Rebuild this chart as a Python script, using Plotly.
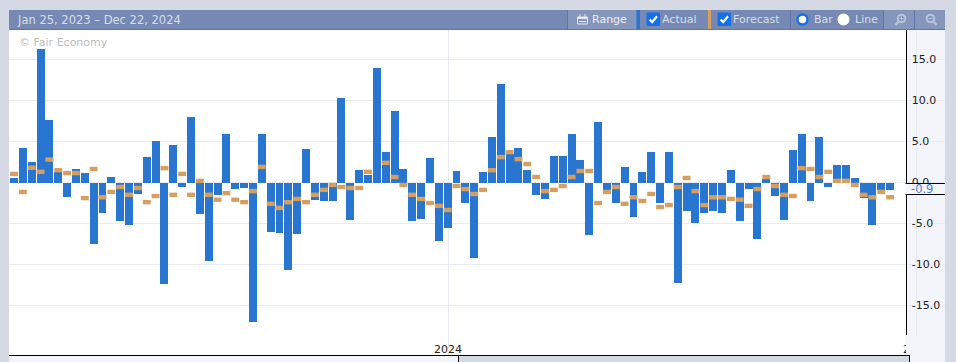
import plotly.graph_objects as go

W, H = 956, 362

# One entry per weekly report, Jan 25 2023 - Dec 22 2024
actual = [0.55, 4.2, 2.5, 16.3, 7.6, 1.3, -1.8, 1.65, 1.15, -7.5,
          -3.7, 0.67, -4.7, -5.2, -1.4, 3.1, 5.05, -12.4, 4.55, -0.55,
          8.0, -3.85, -9.6, -1.5, 5.9, -0.8, -0.7, -17.0, 5.9, -6.05,
          -6.15, -10.7, -6.3, 4.1, -2.1, -2.25, -2.25, 10.3, -4.55, 1.5,
          0.9, 14.0, 3.7, 8.7, 1.65, -4.75, -4.4, 3.0, -7.15, -5.6,
          1.4, -2.55, -9.2, 1.3, 5.55, 12.0, 3.5, 4.2, 1.5, -1.5,
          -2.0, 3.2, 3.2, 5.9, 2.75, -6.4, 7.4, -1.4, -2.5, 1.9,
          -4.2, 1.3, 3.7, -2.55, 3.7, -12.25, -3.45, -4.95, -3.7, -3.45,
          -3.7, 1.5, -4.7, -0.8, -6.9, 0.4, -1.65, -4.55, 3.95, 5.9,
          -2.25, 5.55, -0.55, 2.15, 2.15, 0.55, -1.9, -5.2, -0.9, -0.9]
forecast = [1.05, -1.15, 1.8, 1.3, 2.8, 1.5, 1.15, 1.15, -1.9, 1.65,
            -1.8, -1.15, -0.55, -1.5, -0.67, -2.4, -1.65, 1.75, -1.5, 1.05,
            -1.5, 0.2, -1.5, -2.1, -1.3, -2.1, -2.4, -1.05, 1.9, -2.6,
            -3.1, -2.4, -2.0, -2.4, -1.5, -0.9, -0.3, -0.55, -0.67, -0.67,
            1.3, None, 2.4, 0.67, -0.3, -1.5, -2.0, -2.5, -2.85, -3.35,
            -0.43, -0.8, -1.4, -0.9, 1.5, 3.1, 3.7, 2.85, 2.25, 0.67,
            -1.05, -0.9, -0.43, 0.67, 1.4, 1.4, -2.5, -1.15, -0.55, -2.6,
            -1.8, -2.25, -1.4, -3.0, -2.75, -0.55, 0.55, -1.05, -2.75, -1.8,
            -1.8, -2.0, -2.1, -2.85, -0.8, 0.67, -0.43, -1.5, -1.65, 1.75,
            1.65, 0.67, 1.3, 0.2, 0.2, -0.3, -1.5, -1.8, -1.15, -1.8]
week_index = list(range(len(actual)))
year_ticks = [49.05, 102.03]
year_labels = ["2024", "2025"]
y_ticks = [15, 10, 5, 0, -5, -10, -15]
date_range_text = "Jan 25, 2023 – Dec 22, 2024"
last_value_text = "-0.9"

BLUE, TAN = "#2976d0", "#d69f60"
BG, PANEL, HEADER, HEADER_L = "#d5d9e3", "#f3f5fa", "#7589b4", "#8596bd"
SEP, GRID, FONT = "#5f75a8", "#e9ebf3", "DejaVu Sans"

fx = lambda x: x / W
fy = lambda y: 1 - y / H
PITCH, X0, ZERO_Y, PX_PER_UNIT = 8.85, 14.0, 182.5, 8.2
x_at = lambda px: (px - X0) / PITCH
y_at = lambda py: (ZERO_Y - py) / PX_PER_UNIT
L, R, AX, T, B = 9, 945, 905.5, 30, 358

shapes, notes = [], []


def rect(x0, y0, x1, y1, fill, layer="above", line=None, lw=0):
    shapes.append(dict(type="rect", xref="paper", yref="paper", layer=layer,
                       x0=fx(x0), x1=fx(x1), y0=fy(y1), y1=fy(y0), fillcolor=fill,
                       line=dict(color=line or fill, width=lw)))


def seg(x0, y0, x1, y1, color, w=1):
    shapes.append(dict(type="line", xref="paper", yref="paper", layer="above",
                       x0=fx(x0), x1=fx(x1), y0=fy(y0), y1=fy(y1),
                       line=dict(color=color, width=w)))


def circle(cx, cy, r, fill, line, lw):
    shapes.append(dict(type="circle", xref="paper", yref="paper", layer="above",
                       x0=fx(cx - r), x1=fx(cx + r), y0=fy(cy + r), y1=fy(cy - r),
                       fillcolor=fill, line=dict(color=line, width=lw)))


def path(points, color, w, fill=None):
    d = "M " + " L ".join(f"{fx(x):.5f},{fy(y):.5f}" for x, y in points)
    shapes.append(dict(type="path", xref="paper", yref="paper", layer="above", path=d,
                       fillcolor=fill or "rgba(0,0,0,0)", line=dict(color=color, width=w)))


def text(x, y, s, color, size=11):
    notes.append(dict(xref="paper", yref="paper", x=fx(x), y=fy(y), text=s, showarrow=False,
                      xanchor="left", yanchor="middle", borderpad=0, borderwidth=0,
                      font=dict(family=FONT, size=size, color=color)))


# panels behind / around the plot
rect(AX, T, R, B, PANEL, layer="between")
rect(L, 342, AX - 0.5, B, "#ffffff", layer="between")
rect(906, 335, R, 355, PANEL)

# bottom strip
rect(L, 355, 458, H, PANEL)
rect(458, 355, 909, H, BG)
rect(909, 355, R, H, PANEL)
seg(L, 355.5, 909, 355.5, "#000000")
seg(458.5, 355, 458.5, H, "#000000")
seg(909.5, 355, 909.5, H, "#000000")

# header bar
rect(L, 10, R, 29, HEADER)
rect(L, 29, R, 30, SEP)
rect(568, 10, 636, 29, HEADER_L)
rect(884, 10, R, 29, HEADER_L)
for sx in (567.5, 790.5, 883.5, 914.5):
    seg(sx, 10, sx, 29, SEP)
rect(636.5, 10, 640, 29, BLUE)
rect(708, 10, 711, 29, TAN)

# calendar icon
ICON = "#e4e8f1"
rect(577.5, 17, 587.5, 24, "rgba(0,0,0,0)", line=ICON, lw=1)
rect(577.5, 17, 587.5, 19, ICON)
seg(580, 14, 580, 17, ICON)
seg(585, 14, 585, 17, ICON)
seg(579, 21.5, 586, 21.5, ICON)

# check boxes
for bx in (647, 718):
    rect(bx, 13, bx + 12.5, 25.5, "#1470e8", line="#1470e8", lw=1)
    path([(bx + 2.6, 19.5), (bx + 5.2, 22.2), (bx + 10, 16.2)], "#ffffff", 2.2)

# radio buttons
circle(802.5, 19.5, 5, "#ffffff", "#1470e8", 2.4)
circle(843.5, 19.5, 6, "#ffffff", "#ffffff", 0)

# magnifiers
MAG = "#b9c4dc"
circle(901.5, 18.5, 3.8, "rgba(0,0,0,0)", MAG, 2)
seg(898.5, 21.5, 895.5, 25, MAG, 2.4)
seg(899.5, 18.5, 903.5, 18.5, MAG, 1)
seg(901.5, 16.5, 901.5, 20.5, MAG, 1)
circle(930.5, 18.5, 3.8, "rgba(0,0,0,0)", MAG, 2)
seg(933.5, 21.5, 936.5, 25, MAG, 2.4)
seg(928.5, 18.5, 932.5, 18.5, MAG, 1)

# last value box
rect(906, 183, R, 194, PANEL)
seg(AX, 183.5, R, 183.5, "#000000")
seg(AX, 194.5, R, 194.5, "#000000")

HEAD_TXT = "#d7dde9"
text(16.5, 19.5, date_range_text, HEAD_TXT, size=11.5)
text(592, 20, "Range", "#eef1f7")
text(662, 20, "Actual", HEAD_TXT)
text(733, 20, "Forecast", HEAD_TXT)
text(814, 20, "Bar", HEAD_TXT)
text(855, 20, "Line", HEAD_TXT)
text(18.5, 43, "© Fair Economy", "#bcbcbc")
text(910.5, 189, last_value_text, "#3f80d8", size=11.5)

fig = go.Figure()
fig.add_bar(x=week_index, y=actual, width=0.9, marker=dict(color=BLUE, line=dict(width=0)),
            name="Actual", showlegend=False)
fig.add_scatter(x=week_index, y=forecast, mode="markers", name="Forecast", showlegend=False,
                marker=dict(symbol="line-ew", size=5.66, color=TAN, line=dict(color=TAN, width=4.4)))

fig.update_layout(
    width=W, height=H, margin=dict(l=0, r=0, t=0, b=0), autosize=False,
    paper_bgcolor=BG, plot_bgcolor="#ffffff", showlegend=False, bargap=0,
    font=dict(family=FONT, size=11, color="#222222"),
    shapes=shapes, annotations=notes,
    xaxis=dict(domain=[fx(L), fx(R)], range=[x_at(L), x_at(R)], tickmode="array",
               tickvals=year_ticks, ticktext=year_labels, ticks="", showgrid=True,
               gridcolor=GRID, gridwidth=1, zeroline=False, showline=False,
               ticklabelposition="inside", tickfont=dict(size=11, color="#222222")),
    yaxis=dict(domain=[fy(B), fy(T)], range=[y_at(B), y_at(T)], tickmode="array",
               tickvals=y_ticks, ticktext=[f"{v:.1f}" for v in y_ticks], side="right",
               anchor="free", position=fx(AX), showline=True, linecolor="#000000", linewidth=1,
               ticks="", ticklabelstandoff=3, showgrid=True, gridcolor=GRID, gridwidth=1,
               zeroline=False, tickfont=dict(size=11, color="#222222")),
)

fig.write_html("out.html", config=dict(displayModeBar=False),
               post_script="document.body.style.margin='0';document.body.style.overflow='hidden';")
